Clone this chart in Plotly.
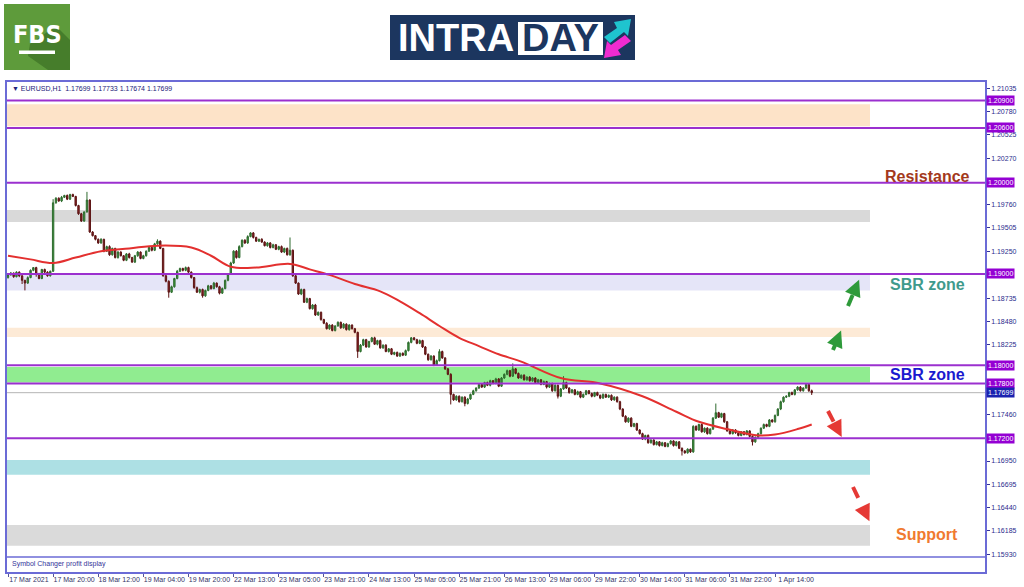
import plotly.graph_objects as go

# ---------------- data ----------------
closes = [
    1.1899, 1.1901, 1.1897, 1.1902, 1.1898, 1.1893, 1.1890, 1.1896, 1.1904, 1.1907, 1.1900, 1.1895, 1.1905, 1.1902, 1.1898, 1.1903,
    1.1978, 1.1983, 1.1980, 1.1984, 1.1986, 1.1982, 1.1987, 1.1985, 1.1975, 1.1966, 1.1958, 1.1968, 1.1981, 1.1946, 1.1942, 1.1938,
    1.1934, 1.1938, 1.1925, 1.1930, 1.1921, 1.1928, 1.1918, 1.1924, 1.1920, 1.1915, 1.1922, 1.1918, 1.1913, 1.1920, 1.1924, 1.1917,
    1.1920, 1.1925, 1.1929, 1.1926, 1.1933, 1.1936, 1.1928, 1.1898, 1.1892, 1.1880, 1.1886, 1.1895, 1.1903, 1.1906, 1.1904, 1.1907,
    1.1902, 1.1896, 1.1885, 1.1880, 1.1883, 1.1876, 1.1882, 1.1887, 1.1884, 1.1890, 1.1886, 1.1879, 1.1884, 1.1893, 1.1900, 1.1912,
    1.1925, 1.1918, 1.1930, 1.1937, 1.1934, 1.1941, 1.1945, 1.1940, 1.1936, 1.1938, 1.1935, 1.1931, 1.1934, 1.1929, 1.1932, 1.1927,
    1.1930, 1.1924, 1.1928, 1.1921, 1.1926, 1.1898, 1.1890, 1.1878, 1.1883, 1.1869, 1.1873, 1.1862, 1.1866, 1.1855, 1.1858, 1.1850,
    1.1846, 1.1840, 1.1844, 1.1838, 1.1843, 1.1847, 1.1841, 1.1845, 1.1839, 1.1844, 1.1840, 1.1836, 1.1815, 1.1822, 1.1828, 1.1820,
    1.1826, 1.1830, 1.1823, 1.1827, 1.1819, 1.1822, 1.1815, 1.1818, 1.1812, 1.1814, 1.1810, 1.1813, 1.1811, 1.1816, 1.1825, 1.1830,
    1.1828, 1.1824, 1.1827, 1.1820, 1.1812, 1.1806, 1.1810, 1.1800, 1.1805, 1.1815, 1.1808, 1.1796, 1.1790, 1.1768, 1.1762, 1.1766,
    1.1760, 1.1765, 1.1758, 1.1763, 1.1768, 1.1772, 1.1775, 1.1779, 1.1776, 1.1781, 1.1778, 1.1783, 1.1780, 1.1785, 1.1777, 1.1786,
    1.1790, 1.1794, 1.1788, 1.1796, 1.1791, 1.1786, 1.1789, 1.1784, 1.1787, 1.1783, 1.1786, 1.1781, 1.1784, 1.1779, 1.1782, 1.1776,
    1.1780, 1.1772, 1.1778, 1.1766, 1.1774, 1.1781, 1.1775, 1.1770, 1.1773, 1.1768, 1.1771, 1.1765, 1.1768, 1.1772, 1.1769, 1.1766,
    1.1770, 1.1767, 1.1764, 1.1768, 1.1765, 1.1767, 1.1762, 1.1765, 1.1760, 1.1752, 1.1744, 1.1738, 1.1742, 1.1733, 1.1736, 1.1729,
    1.1725, 1.1719, 1.1723, 1.1715, 1.1718, 1.1713, 1.1716, 1.1712, 1.1715, 1.1711, 1.1714, 1.1717, 1.1712, 1.1716, 1.1709, 1.1706,
    1.1704, 1.1708, 1.1705, 1.1733, 1.1729, 1.1735, 1.1727, 1.1731, 1.1725, 1.1730, 1.1742, 1.1748, 1.1743, 1.1747, 1.1738, 1.1728,
    1.1725, 1.1729, 1.1726, 1.1723, 1.1727, 1.1724, 1.1728, 1.1722, 1.1716, 1.1721, 1.1725, 1.1731, 1.1735, 1.1733, 1.1740, 1.1738,
    1.1745, 1.1752, 1.1760, 1.1765, 1.1766, 1.1770, 1.1768, 1.1773, 1.1776, 1.1772, 1.1775, 1.1779, 1.1772, 1.17699,
]
first_open = 1.1896

# upper / lower wick length in points (0.00001)
wick_up = [
    8, 12, 6, 10, 9, 5, 7, 14, 10, 6, 9, 12, 5, 8, 10, 7,
    40, 12, 10, 15, 8, 12, 9, 10, 6, 8, 10, 6, 90, 8, 10, 7,
    9, 12, 6, 10, 14, 8, 7, 11, 9, 6, 10, 12, 8, 9, 11, 7,
    10, 8, 12, 9, 11, 20, 8, 6, 9, 10, 12, 8, 14, 10, 9, 12,
    10, 8, 7, 12, 9, 10, 8, 11, 9, 13, 7, 10, 12, 9, 8, 14,
    10, 12, 15, 9, 11, 14, 8, 10, 9, 7, 12, 8, 10, 9, 11, 8,
    9, 12, 8, 10, 140, 8, 12, 7, 10, 9, 11, 8, 10, 12, 9, 8,
    9, 12, 8, 10, 9, 11, 8, 12, 9, 10, 8, 9, 7, 12, 10, 9,
    8, 10, 12, 9, 11, 8, 10, 7, 9, 8, 10, 9, 11, 12, 10, 9,
    8, 10, 12, 9, 10, 8, 11, 9, 12, 25, 10, 8, 9, 12, 8, 10,
    9, 8, 10, 12, 9, 11, 8, 10, 12, 9, 10, 11, 8, 12, 9, 10,
    10, 12, 9, 60, 8, 10, 9, 11, 8, 10, 9, 8, 10, 9, 12, 8,
    10, 9, 12, 8, 10, 70, 9, 8, 10, 9, 11, 8, 10, 9, 8, 10,
    8, 10, 9, 11, 8, 9, 10, 8, 9, 10, 8, 12, 9, 10, 8, 9,
    9, 10, 8, 12, 9, 8, 10, 9, 11, 8, 10, 9, 8, 10, 9, 8,
    10, 9, 8, 12, 10, 9, 11, 8, 10, 9, 12, 100, 9, 10, 8, 9,
    8, 10, 9, 11, 8, 9, 10, 8, 12, 9, 10, 8, 11, 9, 10, 8,
    10, 9, 12, 8, 10, 9, 11, 8, 10, 12, 9, 15, 8, 13,
]
wick_dn = [
    10, 8, 12, 7, 15, 40, 80, 8, 6, 10, 30, 8, 7, 9, 10, 8,
    8, 10, 9, 12, 8, 10, 9, 7, 10, 12, 9, 8, 8, 10, 9, 12,
    10, 9, 12, 8, 11, 9, 10, 12, 8, 10, 9, 11, 8, 10, 12, 9,
    9, 10, 8, 12, 9, 10, 8, 10, 12, 60, 9, 10, 8, 9, 12, 10,
    9, 10, 12, 8, 14, 20, 10, 9, 12, 8, 10, 14, 9, 8, 10, 9,
    10, 12, 8, 9, 11, 10, 8, 12, 9, 10, 9, 8, 11, 10, 9, 8,
    10, 9, 11, 8, 10, 12, 10, 9, 12, 8, 10, 9, 11, 10, 9, 12,
    10, 8, 12, 9, 10, 8, 11, 9, 10, 12, 9, 10, 70, 9, 10, 8,
    9, 10, 8, 12, 9, 10, 8, 11, 9, 10, 8, 9, 10, 8, 9, 10,
    8, 10, 9, 11, 10, 12, 9, 10, 8, 9, 10, 12, 9, 110, 10, 9,
    10, 9, 30, 10, 9, 8, 10, 9, 8, 10, 9, 12, 10, 9, 10, 8,
    9, 10, 12, 9, 10, 9, 10, 8, 10, 9, 10, 12, 9, 10, 9, 15,
    10, 12, 9, 25, 10, 9, 10, 12, 9, 10, 9, 12, 10, 9, 10, 12,
    10, 9, 12, 10, 9, 10, 12, 9, 10, 12, 9, 10, 12, 9, 10, 11,
    10, 9, 12, 10, 9, 10, 9, 12, 10, 9, 10, 9, 12, 10, 9, 50,
    10, 9, 12, 10, 9, 10, 9, 12, 10, 9, 10, 9, 8, 10, 12, 9,
    10, 9, 12, 10, 9, 10, 9, 12, 40, 10, 9, 10, 9, 10, 9, 10,
    10, 9, 12, 10, 9, 10, 9, 12, 10, 9, 10, 9, 12, 25,
]

ma_idx = [0, 8, 16, 24, 33, 43, 53, 65, 72, 79, 88, 100, 107, 114, 123, 132, 139, 146,
          153, 160, 167, 174, 182, 196, 210, 225, 237, 245, 255, 266, 272, 280, 285]
ma_val = [1.1920, 1.1916, 1.1912, 1.1918, 1.1925, 1.1928, 1.1931, 1.1929, 1.1920, 1.1908,
          1.1907, 1.1911, 1.1905, 1.1899, 1.1889, 1.1881, 1.1870, 1.1857, 1.1843, 1.1830,
          1.1821, 1.1812, 1.1804, 1.1786, 1.1780, 1.1766, 1.1749, 1.1738, 1.1730, 1.1723,
          1.1724, 1.1730, 1.1735]

x_tick_idx = list(range(0, 273, 16))
x_tick_text = ["17 Mar 2021", "17 Mar 20:00", "18 Mar 12:00", "19 Mar 04:00", "19 Mar 20:00",
               "22 Mar 13:00", "23 Mar 05:00", "23 Mar 21:00", "24 Mar 13:00", "25 Mar 05:00",
               "25 Mar 21:00", "26 Mar 13:00", "29 Mar 06:00", "29 Mar 22:00", "30 Mar 14:00",
               "31 Mar 06:00", "31 Mar 22:00", "1 Apr 14:00"]
y_tick_vals = [1.21035, 1.20780, 1.20525, 1.20270, 1.19760, 1.19505, 1.19250, 1.18735, 1.18480,
               1.18225, 1.17460, 1.16950, 1.16695, 1.16440, 1.16185, 1.15930]

level_lines = [1.20900, 1.20600, 1.20000, 1.19000, 1.18000, 1.17800, 1.17200]
current_price = 1.17699
band_low = [1.2062, 1.1957, 1.1882, 1.1831, 1.1781, 1.1680, 1.1602]
band_high = [1.2086, 1.1970, 1.1899, 1.1841, 1.1798, 1.1696, 1.1625]
band_color = ["#fde3c8", "#d9d9d9", "#e5e5f8", "#fdead6", "#90ec90", "#ade0e4", "#dadada"]

header_text = "▼ EURUSD,H1  1.17699 1.17733 1.17674 1.17699"

# ---------------- derived OHLC ----------------
opens = [first_open] + closes[:-1]
highs = [max(o, c) + u * 1e-5 for o, c, u in zip(opens, closes, wick_up)]
lows = [min(o, c) - d * 1e-5 for o, c, d in zip(opens, closes, wick_dn)]
idx = list(range(len(closes)))

# ---------------- geometry helpers ----------------
W, H = 1024, 587
L, R, T, B = 7, 985, 82, 572


def px(x):
    return (x - L) / (R - L)


def py(y):
    return (B - y) / (B - T)


def path(points):
    s = "M " + " L ".join(f"{px(x):.5f} {py(y):.5f}" for x, y in points) + " Z"
    return s


fig = go.Figure()
fig.add_trace(go.Candlestick(
    x=idx, open=opens, high=highs, low=lows, close=closes,
    increasing=dict(line=dict(color="#2f6b2f", width=1), fillcolor="#3a9a3a"),
    decreasing=dict(line=dict(color="#5c1414", width=1), fillcolor="#8e2222"),
    whiskerwidth=0, showlegend=False, hoverinfo="skip",
))
fig.add_trace(go.Scatter(
    x=ma_idx, y=ma_val, mode="lines", line=dict(color="#e3302f", width=2, shape="spline"),
    showlegend=False, hoverinfo="skip",
))

shapes = []
for lo, hi, col in zip(band_low, band_high, band_color):
    shapes.append(dict(type="rect", xref="paper", yref="y", x0=0, x1=px(870), y0=lo, y1=hi,
                       fillcolor=col, line=dict(width=0), layer="below"))
shapes.append(dict(type="line", xref="paper", yref="y", x0=0, x1=1, y0=current_price, y1=current_price,
                   line=dict(color="#b4b4b4", width=1), layer="below"))
for lv in level_lines:
    shapes.append(dict(type="line", xref="paper", yref="y", x0=0, x1=1, y0=lv, y1=lv,
                       line=dict(color="#9b30cf", width=2), layer="above"))
# sub window separator
shapes.append(dict(type="rect", xref="paper", yref="paper", x0=0, x1=1, y0=0, y1=py(557.5),
                   fillcolor="white", line=dict(width=0), layer="above"))
shapes.append(dict(type="line", xref="paper", yref="paper", x0=0, x1=1, y0=py(557), y1=py(557),
                   line=dict(color="#6b6bd6", width=1.5)))

# dashed arrows
arrow_specs = [
    ((848, 306), (856, 287), "#2e9a3a"),
    ((833, 350), (838, 338), "#2e9a3a"),
    ((828, 411), (838, 430), "#e53935"),
    ((853, 487), (866, 514), "#e53935"),
]
for (x0, y0), (x1, y1), col in arrow_specs:
    shapes.append(dict(type="line", xref="paper", yref="paper", x0=px(x0), y0=py(y0), x1=px(x1), y1=py(y1),
                       line=dict(color=col, width=4, dash="dash")))

# FBS logo
shapes.append(dict(type="rect", xref="paper", yref="paper", x0=px(4), x1=px(70), y0=py(4), y1=py(70),
                   fillcolor="#5e9b3b", line=dict(width=0)))
shapes.append(dict(type="path", xref="paper", yref="paper",
                   path=path([(30, 44), (56, 26), (70, 40), (70, 70), (48, 70), (28, 56)]),
                   fillcolor="#467d2b", line=dict(width=0)))
shapes.append(dict(type="rect", xref="paper", yref="paper", x0=px(19), x1=px(55), y0=py(50.5), y1=py(54),
                   fillcolor="white", line=dict(width=0)))

# INTRADAY logo
shapes.append(dict(type="rect", xref="paper", yref="paper", x0=px(390), x1=px(635), y0=py(15), y1=py(60),
                   fillcolor="#1c365f", line=dict(width=0)))
shapes.append(dict(type="rect", xref="paper", yref="paper", x0=px(518), x1=px(603), y0=py(22), y1=py(55),
                   fillcolor="white", line=dict(width=0)))
shapes.append(dict(type="path", xref="paper", yref="paper",
                   path=path([(604, 37), (617, 28), (614, 22), (631, 19), (628, 36), (624, 32), (610, 43)]),
                   fillcolor="#1fc4cf", line=dict(width=0)))
shapes.append(dict(type="path", xref="paper", yref="paper",
                   path=path([(631, 41), (618, 50), (621, 55), (604, 58), (607, 41), (611, 45), (625, 35)]),
                   fillcolor="#f02bd0", line=dict(width=0)))

annotations = []
for (x0, y0), (x1, y1), col in arrow_specs:
    dx, dy = x1 - x0, y1 - y0
    n = (dx * dx + dy * dy) ** 0.5
    hx, hy = x1 + dx / n * 8, y1 + dy / n * 8
    annotations.append(dict(xref="paper", yref="paper", x=px(hx), y=py(hy), ax=-dx / n * 9, ay=-dy / n * 9,
                            text="", showarrow=True, arrowhead=2, arrowsize=1.1, arrowwidth=3, arrowcolor=col))

for lv in level_lines:
    annotations.append(dict(xref="paper", yref="y", x=px(986), y=lv, xanchor="left", yanchor="middle",
                            text=f"{lv:.5f}", showarrow=False, bgcolor="#9400d3", borderpad=1,
                            font=dict(family="Liberation Sans", size=7, color="white")))
annotations.append(dict(xref="paper", yref="y", x=px(986), y=current_price, xanchor="left", yanchor="middle",
                        text=f"{current_price:.5f}", showarrow=False, bgcolor="#1a22b0", borderpad=1,
                        font=dict(family="Liberation Sans", size=7, color="white")))

label_specs = [
    ("Resistance", 1.2007, "#a3391c"),
    ("SBR zone", 1.18890, "#3f9a8c"),
    ("SBR zone", 1.17895, "#1a1acf"),
    ("Support", 1.16145, "#f07a30"),
]
for txt, yv, col in label_specs:
    annotations.append(dict(xref="paper", yref="y", x=px(927), y=yv, xanchor="center", yanchor="middle",
                            text=f"<b>{txt}</b>", showarrow=False,
                            font=dict(family="Liberation Sans", size=16, color=col)))

annotations.append(dict(xref="paper", yref="paper", x=px(10), y=py(89), xanchor="left", yanchor="middle",
                        text=header_text, showarrow=False,
                        font=dict(family="Liberation Sans", size=7, color="#22227a")))
annotations.append(dict(xref="paper", yref="paper", x=px(10), y=py(564), xanchor="left", yanchor="middle",
                        text="Symbol Changer profit display", showarrow=False,
                        font=dict(family="Liberation Sans", size=7, color="#333399")))
annotations.append(dict(xref="paper", yref="paper", x=px(37), y=py(35), xanchor="center", yanchor="middle",
                        text="<b>FBS</b>", showarrow=False,
                        font=dict(family="Liberation Sans Narrow, DejaVu Sans Condensed", size=25, color="white")))
annotations.append(dict(xref="paper", yref="paper", x=px(456), y=py(38), xanchor="center", yanchor="middle",
                        text="<b>INTRA</b>", showarrow=False,
                        font=dict(family="Liberation Sans", size=38, color="white")))
annotations.append(dict(xref="paper", yref="paper", x=px(560), y=py(38.5), xanchor="center", yanchor="middle",
                        text="<b>DAY</b>", showarrow=False,
                        font=dict(family="Liberation Sans", size=38, color="#1c365f")))

ymax = 1.21035 + (88.3 - T) * 0.0001096
ymin = 1.21035 - (B - 88.3) * 0.0001096
bar_px = 2.82
x0r = -(8 - L) / bar_px
x1r = x0r + (R - L) / bar_px

fig.update_layout(
    width=W, height=H,
    margin=dict(l=L, r=W - R, t=T, b=H - B, pad=0, autoexpand=False),
    paper_bgcolor="white", plot_bgcolor="white",
    shapes=shapes, annotations=annotations,
    showlegend=False,
    xaxis=dict(range=[x0r, x1r], rangeslider=dict(visible=False), tickvals=x_tick_idx, ticktext=x_tick_text,
               automargin=False,
               showgrid=False, zeroline=False, showline=True, mirror=True, linecolor="#6b6bd6", linewidth=1.5,
               ticks="outside", ticklen=3, tickcolor="#555599", ticklabelshift=21, ticklabelstandoff=-3,
               tickfont=dict(family="Liberation Sans", size=7, color="#333366")),
    yaxis=dict(range=[ymin, ymax], side="right", tickvals=y_tick_vals, ticktext=[f"{v:.5f}" for v in y_tick_vals],
               automargin=False,
               showgrid=False, zeroline=False, showline=True, mirror=True, linecolor="#6b6bd6", linewidth=1.5,
               ticks="outside", ticklen=3, tickcolor="#333399",
               tickfont=dict(family="Liberation Sans", size=7, color="#2b2b8c")),
)

fig.write_html("out.html", config={"displayModeBar": False},
               post_script="document.body.style.margin='0';document.body.style.overflow='hidden';")
